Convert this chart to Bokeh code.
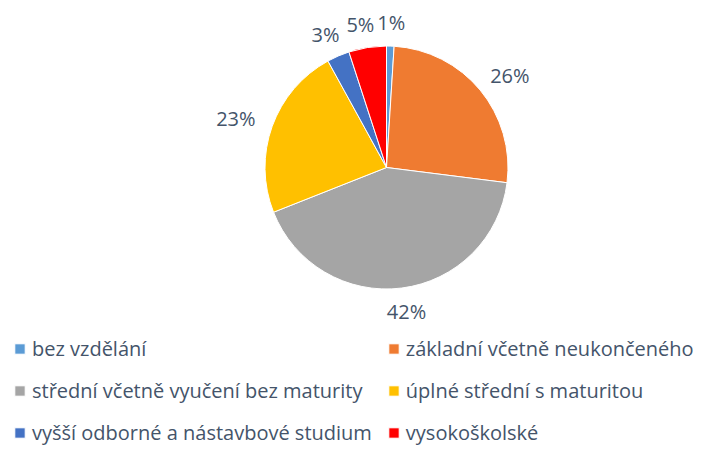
import math
from bokeh.plotting import figure
from bokeh.models import ColumnDataSource, Legend, LegendItem, Range1d
from bokeh.core.properties import value
from bokeh.embed import file_html
from bokeh.resources import INLINE

categories = [
    "bez vzdělání",
    "základní včetně neukončeného",
    "střední včetně vyučení bez maturity",
    "úplné střední s maturitou",
    "vyšší odborné a nástavbové studium",
    "vysokoškolské",
]
percent = [1, 26, 42, 23, 3, 5]
colors = ["#5B9BD5", "#EF7B31", "#A5A5A5", "#FFC000", "#4472C4", "#FF0000"]
labels = [f"{v}%" for v in percent]

W, H = 702, 446
cx, cy, R = 386, 279, 121.5
TEXT = "#44546A"
FONT = "Open Sans"

# label placement: outside end, then push apart labels that collide
D, HH, CHAR_W, LABEL_H, PAD = 18.5, 5, 13.4, 20, 8
total = sum(percent)
starts, ends, lx, ly, lw = [], [], [], [], []
cum = 0
for v, lab in zip(percent, labels):
    a0 = math.pi / 2 - 2 * math.pi * cum / total
    a1 = math.pi / 2 - 2 * math.pi * (cum + v) / total
    starts.append(a1)
    ends.append(a0)
    mid = (a0 + a1) / 2
    w = CHAR_W * len(lab)
    ux, uy = math.cos(mid), math.sin(mid)
    x = cx + (R + D + w / 2) * ux
    y = cy + (R + D + HH) * uy
    for _ in range(3):
        for j in range(len(lx)):
            if abs(y - ly[j]) < LABEL_H and abs(x - lx[j]) < (w + lw[j]) / 2 + PAD:
                need = (w + lw[j]) / 2 + PAD
                x = lx[j] - need if x < lx[j] else lx[j] + need
    lx.append(x)
    ly.append(y)
    lw.append(w)
    cum += v

src = ColumnDataSource(dict(start=starts, end=ends, color=colors, cat=categories))
lsrc = ColumnDataSource(dict(x=lx, y=ly, text=labels))

p = figure(width=W, height=H, output_backend="svg", toolbar_location=None,
           x_range=Range1d(0, W), y_range=Range1d(0, H), min_border=0)
p.axis.visible = False
p.grid.visible = False
p.outline_line_color = None

r = p.wedge(x=cx, y=cy, radius=R, start_angle="start", end_angle="end",
            fill_color="color", line_color="white", line_width=1, source=src)
p.text(x="x", y="y", text="text", source=lsrc, text_font=value(FONT),
       text_font_size="20px", text_color=TEXT, text_align="center",
       text_baseline="middle")

order = [0, 2, 4, 1, 3, 5]  # legend fills column by column
items = [LegendItem(label=categories[i], renderers=[r], index=i) for i in order]
legend = Legend(items=items, ncols=2, location=(13, 0),
                label_text_font=FONT, label_text_font_size="20px",
                label_text_color=TEXT, glyph_width=13, glyph_height=13,
                label_standoff=6, spacing=15, label_height=27, padding=0, margin=0,
                border_line_color=None, background_fill_alpha=0)
p.add_layout(legend)

open("out.html", "w").write(file_html(p, INLINE))
